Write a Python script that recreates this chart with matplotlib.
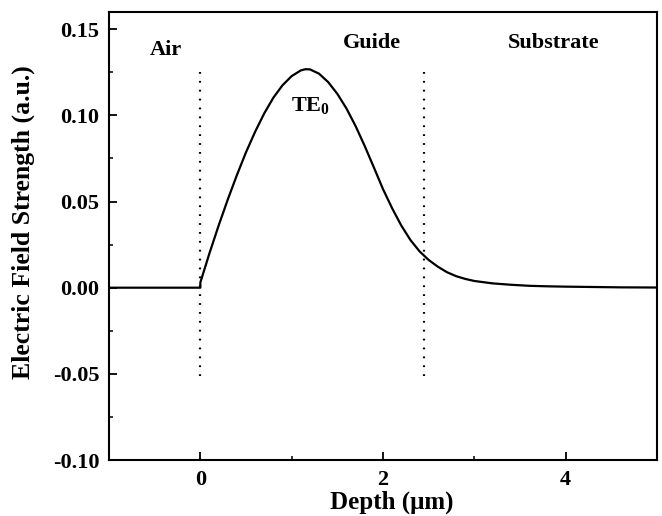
import matplotlib
matplotlib.use("Agg")
import matplotlib.pyplot as plt

depth = [-1.0, 0.0, 0.0, 0.1, 0.2, 0.3, 0.4, 0.5, 0.6, 0.7, 0.8, 0.9, 1.0, 1.1, 1.15,
         1.2, 1.3, 1.4, 1.5, 1.6, 1.7, 1.8, 1.9, 2.0, 2.1, 2.2, 2.3, 2.4, 2.5, 2.6,
         2.7, 2.8, 2.9, 3.0, 3.2, 3.4, 3.6, 3.8, 4.0, 4.3, 4.6, 5.0]
field = [0.0, 0.0, 0.003, 0.0200, 0.0360, 0.0511, 0.0653, 0.0786, 0.0905, 0.1012,
         0.1103, 0.1175, 0.1228, 0.1261, 0.1268, 0.1267, 0.1242, 0.1193, 0.1125,
         0.1040, 0.0938, 0.0822, 0.0698, 0.0572, 0.0461, 0.0361, 0.0277, 0.0211,
         0.0161, 0.0122, 0.0090, 0.0067, 0.0051, 0.0039, 0.0025, 0.0017, 0.0011,
         0.0008, 0.0006, 0.0004, 0.0002, 0.0001]
boundaries = [0.0, 2.45]
region_labels = ["Air", "Guide", "Substrate"]
region_x = [-0.375, 1.88, 3.87]
region_y = [0.138, 0.1418, 0.1418]
xticks = [0, 2, 4]
yticks = [-0.10, -0.05, 0.00, 0.05, 0.10, 0.15]

plt.rcParams['font.family'] = ['Liberation Serif', 'DejaVu Serif']
plt.rcParams['font.weight'] = 'bold'
plt.rcParams['mathtext.fontset'] = 'custom'
plt.rcParams['mathtext.rm'] = 'Liberation Serif:bold'
plt.rcParams['mathtext.bf'] = 'Liberation Serif:bold'
plt.rcParams['mathtext.it'] = 'Liberation Serif:bold'

fig = plt.figure(figsize=(6.62, 5.16), dpi=100)
ax = fig.add_axes([109/662, 1-460/516, (657-109)/662, (460-12)/516])

ax.plot(depth, field, color='black', lw=1.6)
for b in boundaries:
    ax.plot([b, b], [-0.051, 0.129], color='black', lw=1.6, ls=(0, (0.8, 3.2)))

ax.set_xlim(-1.0, 5.0)
ax.set_ylim(-0.10, 0.16)
ax.set_xticks(xticks)
ax.set_xticks([1, 3], minor=True)
ax.set_yticks(yticks)
ax.set_yticks([-0.075, -0.025, 0.025, 0.075, 0.125], minor=True)
ax.set_xticklabels([str(t) for t in xticks], fontsize=16, fontweight='bold')
ax.set_yticklabels([f"{t:.2f}" for t in yticks], fontsize=16, fontweight='bold')
ax.tick_params(which='major', direction='in', length=6, width=1.3, pad=7)
ax.tick_params(which='minor', direction='in', length=3, width=1.1)
for s in ax.spines.values():
    s.set_linewidth(1.5)

for lbl, x, y in zip(region_labels, region_x, region_y):
    ax.text(x, y, lbl, fontsize=16, fontweight='bold', ha='center', va='center')
ax.text(0.99, 0.106, r"TE$_\mathrm{0}$", fontsize=16, fontweight='bold', ha='left', va='center')

ax.set_xlabel("Depth (μm)", fontsize=18, fontweight='bold')
ax.xaxis.set_label_coords(0.516, -0.069)
ax.set_ylabel("Electric Field Strength (a.u.)", fontsize=18.5, fontweight='bold')
ax.yaxis.set_label_coords(-0.135, 0.531)

fig.savefig("out.png", dpi=100)
